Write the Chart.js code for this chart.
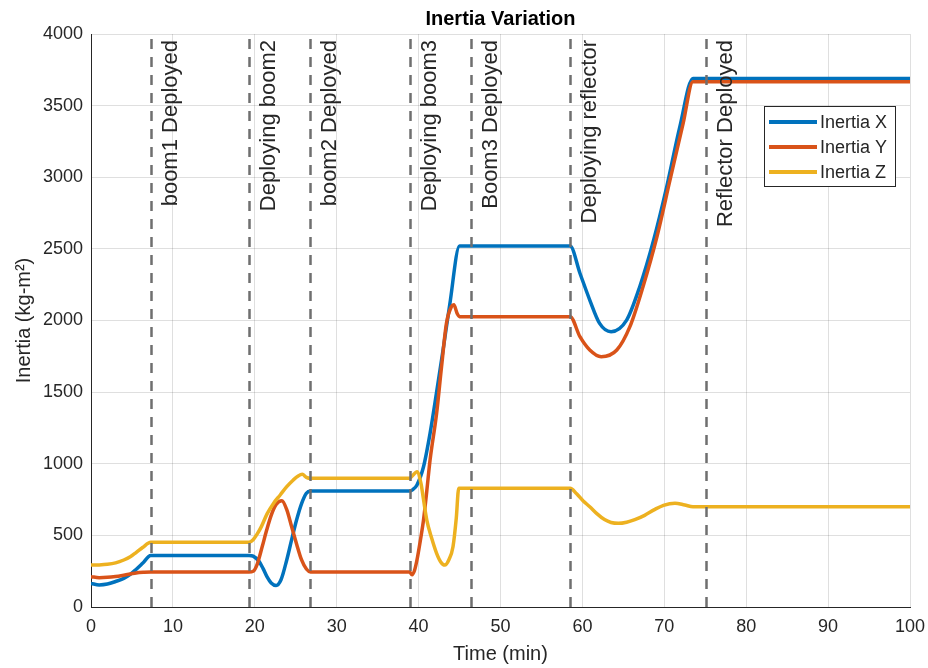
<!DOCTYPE html>
<html>
<head>
<meta charset="utf-8">
<title>Inertia Variation</title>
<script src="https://cdn.jsdelivr.net/npm/chart.js@4.4.1/dist/chart.umd.min.js"></script>
<style>
  html, body { margin: 0; padding: 0; background: #fff; }
  #wrap { width: 928px; height: 668px; position: relative; }
</style>
</head>
<body>
<div id="wrap"><canvas id="inertia-chart"></canvas></div>
<script>
// time (min) and inertia (kg-m^2)
const xTimes   = [0, 1, 2, 3, 4, 4.8, 5.5, 6.3, 7.3, 19.3, 19.8, 20.5, 21, 21.5, 22, 22.6, 23.2, 23.9, 24.5, 25.1, 25.7, 26.3, 26.8,
                  38.9, 39.3, 39.8, 40.6, 41.4, 42.2, 43, 43.8, 45, 58.5, 59.7, 60.9, 62.1, 63.5, 65.4, 67, 68.7, 70.3, 71.9, 73.5, 100];
const inertiaX = [165, 154, 160, 178, 200, 228, 262, 305, 360, 360, 355, 320, 270, 210, 168, 150, 190, 328, 470, 607, 720, 794, 810,
                  810, 820, 852, 979, 1212, 1500, 1800, 2110, 2520, 2520, 2330, 2143, 1980, 1922, 2003, 2236, 2562, 2934, 3353, 3690, 3690];

const yTimes   = [0, 1, 2, 3, 4, 4.8, 5.5, 6.5, 7.3, 19.3, 19.8, 20.3, 20.9, 21.45, 22, 22.6, 23.3, 23.9, 24.5, 25.1, 25.7, 26.3, 26.8,
                  38.9, 39.2, 39.5, 39.8, 40.2, 40.6, 41, 41.4, 42.2, 42.8, 43.4, 44, 44.3, 44.7, 45, 58.5, 59.7, 60.9, 62.3, 64.2,
                  65.8, 67.4, 69.1, 70.7, 72.3, 73.5, 100];
const inertiaY = [212, 205, 207, 213, 222, 230, 238, 243, 245, 245, 250, 300, 420, 537, 640, 715, 742, 680, 560, 440, 330, 265, 245,
                  245, 225, 255, 328, 460, 607, 810, 1026, 1352, 1677, 1980, 2096, 2110, 2050, 2027, 2027, 1887, 1794, 1747, 1794,
                  1957, 2236, 2585, 2981, 3376, 3667, 3667];

const zTimes   = [0, 1, 2, 3, 4, 4.8, 5.5, 6.3, 7.3, 19.3, 19.8, 20.3, 20.8, 21.5, 22.3, 23.1, 23.9, 24.7, 25.3, 25.8, 26.3, 26.8,
                  38.9, 39.3, 39.8, 40.3, 40.6, 41, 41.6, 42.2, 42.7, 43.2, 43.7, 44.2, 44.6, 44.9, 58.5, 59.3, 60.1, 60.9, 61.8,
                  62.7, 63.5, 64.4, 65.4, 66.4, 67.6, 68.8, 69.9, 71.3, 72.5, 73.5, 100];
const inertiaZ = [293, 294, 298, 308, 328, 351, 380, 415, 452, 452, 470, 510, 561, 650, 725, 782, 840, 887, 915, 926, 905, 898,
                  898, 920, 945, 860, 750, 607, 480, 375, 315, 293, 330, 421, 620, 829, 829, 790, 740, 700, 650,
                  610, 590, 584, 592, 610, 640, 680, 710, 725, 712, 700, 700];

const eventTimes  = [7.3, 19.3, 26.8, 38.9, 46.4, 58.5, 75.1];
const eventLabels = ['boom1 Deployed', 'Deploying boom2', 'boom2 Deployed', 'Deploying boom3',
                     'Boom3 Deployed', 'Deploying reflector', 'Reflector Deployed'];

const seriesNames  = ['Inertia X', 'Inertia Y', 'Inertia Z'];
const seriesColors = ['#0072BD', '#D95319', '#EDB120'];

const FONT = "'Liberation Sans', Arial, Helvetica, sans-serif";
const TEXT = '#262626';

function points(times, vals) {
  return times.map((t, i) => ({ x: t, y: vals[i] }));
}

// dashed event lines with rotated labels, plus the title and the boxed legend
const overlayPlugin = {
  id: 'overlay',
  afterDatasetsDraw(chart) {
    const ctx = chart.ctx;
    const area = chart.chartArea;
    const xs = chart.scales.x;
    ctx.save();
    ctx.strokeStyle = '#6f6f6f';
    ctx.lineWidth = 2.5;
    ctx.setLineDash([10, 8]);
    eventTimes.forEach(t => {
      const px = Math.round(xs.getPixelForValue(t)) + 0.5;
      ctx.beginPath();
      ctx.moveTo(px, area.bottom);
      ctx.lineTo(px, area.top);
      ctx.stroke();
    });
    ctx.setLineDash([]);
    ctx.fillStyle = TEXT;
    ctx.font = '22px ' + FONT;
    ctx.textAlign = 'right';
    ctx.textBaseline = 'alphabetic';
    eventTimes.forEach((t, i) => {
      const px = xs.getPixelForValue(t);
      ctx.save();
      ctx.translate(px + 26, area.top + 6);
      ctx.rotate(-Math.PI / 2);
      ctx.fillText(eventLabels[i], 0, 0);
      ctx.restore();
    });
    ctx.restore();
  },
  afterDraw(chart) {
    const ctx = chart.ctx;
    const area = chart.chartArea;
    ctx.save();
    // title
    ctx.fillStyle = '#000';
    ctx.font = 'bold 20px ' + FONT;
    ctx.textAlign = 'center';
    ctx.textBaseline = 'middle';
    ctx.fillText('Inertia Variation', (area.left + area.right) / 2, 19);

    // legend
    const boxR = area.right - 15, boxL = boxR - 131;
    const boxT = area.top + 72, boxH = 80;
    ctx.fillStyle = '#fff';
    ctx.fillRect(boxL, boxT, boxR - boxL, boxH);
    ctx.strokeStyle = '#262626';
    ctx.lineWidth = 1;
    ctx.strokeRect(boxL + 0.5, boxT + 0.5, boxR - boxL, boxH);
    ctx.font = '18px ' + FONT;
    ctx.textAlign = 'left';
    chart.data.datasets.forEach((ds, i) => {
      const cy = boxT + 16 + i * 25;
      ctx.strokeStyle = ds.borderColor;
      ctx.lineWidth = 4;
      ctx.beginPath();
      ctx.moveTo(boxL + 5, cy);
      ctx.lineTo(boxL + 53, cy);
      ctx.stroke();
      ctx.fillStyle = TEXT;
      ctx.fillText(ds.label, boxL + 56, cy + 1);
    });
    ctx.restore();
  }
};

const ctx = document.getElementById('inertia-chart').getContext('2d');

const inertiaChart = new Chart(ctx, {
  type: 'line',
  data: {
    datasets: [
      { label: seriesNames[0], data: points(xTimes, inertiaX), borderColor: seriesColors[0], order: 3 },
      { label: seriesNames[1], data: points(yTimes, inertiaY), borderColor: seriesColors[1], order: 2 },
      { label: seriesNames[2], data: points(zTimes, inertiaZ), borderColor: seriesColors[2], order: 1 }
    ]
  },
  options: {
    responsive: true,
    maintainAspectRatio: false,
    animation: false,
    elements: {
      line: { borderWidth: 3.5, cubicInterpolationMode: 'monotone', fill: false },
      point: { radius: 0, hoverRadius: 0 }
    },
    layout: { padding: { top: 34, right: 18, left: 0, bottom: 0 } },
    plugins: {
      legend: { display: false },
      title: { display: false },
      tooltip: { enabled: false }
    },
    scales: {
      x: {
        type: 'linear',
        min: 0,
        max: 100,
        afterFit: s => { s.height = 61; s.paddingRight = 0; s.paddingLeft = 0; },
        ticks: { stepSize: 10, color: TEXT, font: { family: FONT, size: 18 }, padding: 9, maxRotation: 0,
                 callback: v => String(v) },
        grid: { color: 'rgba(38,38,38,0.15)', drawTicks: false },
        border: { color: TEXT, width: 1 },
        title: { display: true, text: 'Time (min)', color: TEXT, font: { family: FONT, size: 20 }, padding: { top: 0, bottom: 2 } }
      },
      y: {
        min: 0,
        max: 4000,
        afterFit: s => { s.width = 91; s.paddingTop = 0; s.paddingBottom = 0; },
        ticks: { stepSize: 500, color: TEXT, font: { family: FONT, size: 18 }, padding: 8,
                 callback: v => String(v) },
        grid: { color: 'rgba(38,38,38,0.15)', drawTicks: false },
        border: { color: TEXT, width: 1 },
        title: { display: true, text: 'Inertia (kg-m²)', color: TEXT, font: { family: FONT, size: 20 }, padding: { top: 12, bottom: 0 } }
      }
    }
  },
  plugins: [overlayPlugin]
});
</script>
</body>
</html>
